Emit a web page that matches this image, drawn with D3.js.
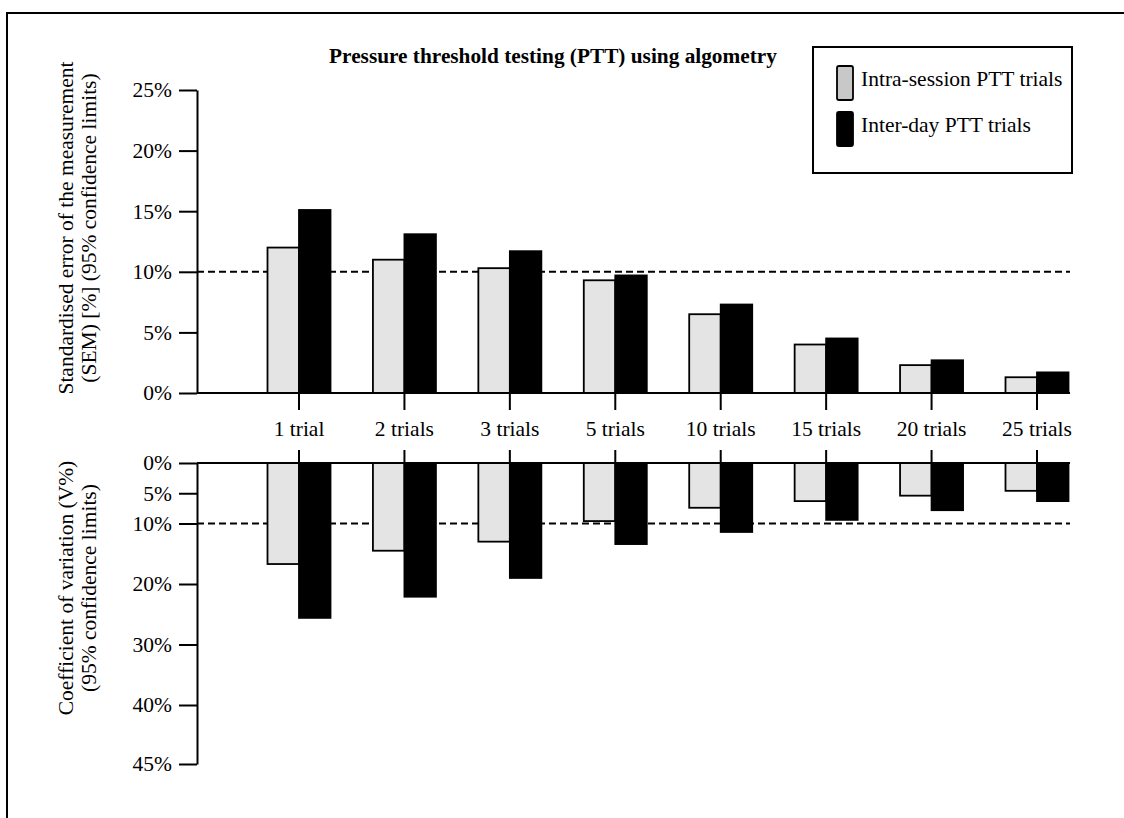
<!DOCTYPE html>
<html>
<head>
<meta charset="utf-8">
<script src="https://cdn.jsdelivr.net/npm/d3@7"></script>
<style>
  body { margin: 0; background: #fff; }
  svg text { font-family: "Liberation Serif", Tinos, "DejaVu Serif", serif; fill: #000; }
</style>
</head>
<body>
<div id="svgWrapper"></div>
<script>
// trial groups
var categories = ["1 trial", "2 trials", "3 trials", "5 trials", "10 trials", "15 trials", "20 trials", "25 trials"];
// SEM %  (upper panel)
var semIntra = [12.0, 11.0, 10.3, 9.3, 6.5, 4.0, 2.3, 1.3];
var semInter = [15.1, 13.1, 11.7, 9.7, 7.3, 4.5, 2.7, 1.7];
// CV %  (lower panel, drawn downwards)
var cvIntra = [16.7, 14.5, 13.0, 9.6, 7.4, 6.3, 5.4, 4.6];
var cvInter = [25.6, 22.1, 19.0, 13.4, 11.4, 9.4, 7.8, 6.3];
var semTicks = [0, 5, 10, 15, 20, 25];
var cvTicks = [0, 5, 10, 20, 30, 40, 45];
var seriesNames = ["Intra-session PTT trials", "Inter-day PTT trials"];
var threshold = 10;

var fullWidth = 1124, fullHeight = 818;
var axisX = 197, lineEnd = 1070;
var colors = ["#e4e4e4", "#000"];
var serif = "'Liberation Serif', Tinos, 'DejaVu Serif', serif";
var fs = 21.5;

var svg = d3.select("#svgWrapper").append("svg")
	.attr("width", fullWidth).attr("height", fullHeight)
	.attr("font-family", serif);

// frame (top + left only)
svg.append("path").attr("d", "M7,818V13H1124").attr("fill", "none").attr("stroke", "#000").attr("stroke-width", 2);

var x = d3.scalePoint().domain(categories).range([299, 1037]);
var sub = d3.scaleBand().domain([0, 1]).range([-31.5, 31.5]);

var yTop = d3.scaleLinear().domain([0, 25]).range([393, 90]);
// lower axis: 45% tick sits a bit further than linear spacing
var yBot = d3.scaleLinear().domain([0, 40, 45]).range([463, 705, 764]);

function panel(yScale, ticks, intra, inter, tickDown) {
	var g = svg.append("g");
	// dashed 10% line
	g.append("line")
		.attr("x1", axisX).attr("x2", lineEnd)
		.attr("y1", yScale(threshold)).attr("y2", yScale(threshold))
		.attr("stroke", "#000").attr("stroke-width", 2).attr("stroke-dasharray", "7,4");

	[intra, inter].forEach(function(vals, s) {
		g.selectAll("rect.s" + s)
			.data(vals)
			.enter().append("rect")
			.attr("class", "s" + s)
			.attr("x", function(d, i) { return x(categories[i]) + sub(s); })
			.attr("width", sub.bandwidth())
			.attr("y", function(d) { return Math.min(yScale(0), yScale(d)); })
			.attr("height", function(d) { return Math.abs(yScale(d) - yScale(0)); })
			.attr("fill", colors[s])
			.attr("stroke", "#000").attr("stroke-width", 1.8);
	});

	// baseline
	g.append("line")
		.attr("x1", axisX).attr("x2", lineEnd)
		.attr("y1", yScale(0)).attr("y2", yScale(0))
		.attr("stroke", "#000").attr("stroke-width", 2);

	// category ticks
	g.selectAll("line.ct")
		.data(categories)
		.enter().append("line")
		.attr("class", "ct")
		.attr("x1", function(d) { return x(d); }).attr("x2", function(d) { return x(d); })
		.attr("y1", yScale(0)).attr("y2", yScale(0) + tickDown)
		.attr("stroke", "#000").attr("stroke-width", 2);

	var ax = g.append("g")
		.attr("transform", "translate(" + axisX + ",0)")
		.call(d3.axisLeft(yScale).tickValues(ticks).tickSize(18).tickSizeOuter(0).tickPadding(7)
			.tickFormat(function(d) { return d + "%"; }));
	ax.attr("font-family", serif).attr("font-size", fs);
	ax.selectAll("path, line").attr("stroke", "#000").attr("stroke-width", 2);
}

panel(yTop, semTicks, semIntra, semInter, 17);
panel(yBot, cvTicks, cvIntra, cvInter, -13);

// category labels
svg.selectAll("text.cat")
	.data(categories)
	.enter().append("text")
	.attr("class", "cat")
	.attr("x", function(d) { return x(d); })
	.attr("y", 436)
	.attr("text-anchor", "middle")
	.attr("font-size", fs)
	.text(function(d) { return d; });

// title
svg.append("text")
	.attr("x", 553).attr("y", 63)
	.attr("text-anchor", "middle")
	.attr("font-size", 21.3).attr("font-weight", "bold")
	.text("Pressure threshold testing (PTT) using algometry");

// y titles
function yTitle(lines, cy) {
	lines.forEach(function(t, i) {
		svg.append("text")
			.attr("transform", "translate(" + (73 + i * 23) + "," + cy + ") rotate(-90)")
			.attr("text-anchor", "middle")
			.attr("font-size", fs)
			.text(t);
	});
}
yTitle(["Standardised error of the measurement", "(SEM) [%] (95% confidence limits)"], 228);
yTitle(["Coefficient of variation (V%)", "(95% confidence limits)"], 588);

// legend
var legend = svg.append("g");
legend.append("rect").attr("x", 813).attr("y", 47).attr("width", 259).attr("height", 126)
	.attr("fill", "#fff").attr("stroke", "#000").attr("stroke-width", 2);
seriesNames.forEach(function(name, i) {
	legend.append("rect")
		.attr("x", 837).attr("y", 66 + i * 46).attr("width", 16).attr("height", 34).attr("rx", 2)
		.attr("fill", i === 0 ? "#c8c8c8" : "#000").attr("stroke", "#000").attr("stroke-width", 1.8);
	legend.append("text")
		.attr("x", 861).attr("y", 86 + i * 46)
		.attr("font-size", fs)
		.text(name);
});
</script>
</body>
</html>
